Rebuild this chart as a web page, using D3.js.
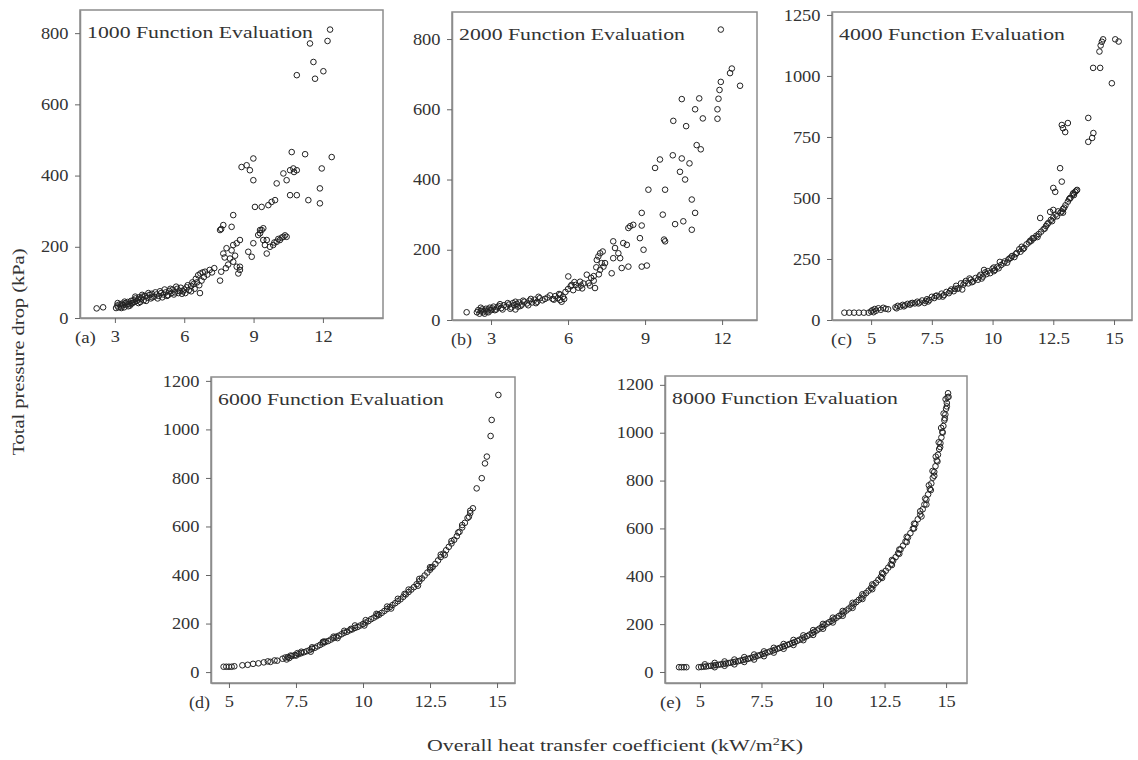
<!DOCTYPE html>
<html>
<head>
<meta charset="utf-8">
<script src="https://cdn.jsdelivr.net/npm/d3@7"></script>
<style>
  body { margin: 0; background: #fff; }
  svg text { font-family: "Liberation Serif", "Times New Roman", serif; fill: #333; }
</style>
</head>
<body>
<svg id="chart" width="1138" height="760"></svg>
<script>
// valores: [coeficiente global (kW/m2K), caida de presion (kPa)]
var fe1000 = [
  [2.21,27],[2.49,30],
  [3.05,28],[3.1,35],[3.15,30],[3.2,38],[3.25,32],[3.3,40],[3.35,36],[3.4,30],[3.45,42],[3.5,38],[3.55,45],[3.6,40],[3.65,35],[3.7,48],[3.75,42],[3.8,50],[3.85,45],[3.9,55],[3.95,48],[4.0,52],[4.05,58],[4.1,45],[4.15,55],[4.2,60],[4.25,50],[4.3,62],[4.4,57],[4.5,65],[4.55,55],[4.6,68],[4.7,60],[4.8,66],[4.9,62],[5.0,70],[5.05,58],[5.1,66],[5.2,72],[5.3,64],[5.35,76],[5.45,70],[5.5,80],[5.6,72],[5.7,82],[5.8,76],[5.9,68],[6.0,80],[6.1,86],[6.2,78],[6.3,90],[6.4,95],[6.45,82],[6.5,110],[6.55,100],[6.6,120],[6.65,92],[6.7,125],[6.75,105],[6.8,128],[6.85,115],[6.9,130],[7.0,122],[7.1,135],[7.2,128],[7.3,140],[6.68,70],[6.3,75],[7.55,105],
  [3.12,42],[3.28,28],[3.42,46],[3.58,33],[3.72,40],[3.88,60],[4.02,42],[4.18,65],[4.35,48],[4.45,70],[4.62,58],[4.75,72],[4.85,55],[4.95,75],[5.15,80],[5.25,62],[5.4,82],[5.55,66],[5.65,88],[5.75,70],[5.85,85],[5.95,75],[6.05,70],[6.15,92],[6.35,100],
  [7.55,247],[7.6,250],[7.69,261],[8.05,256],[8.12,289],
  [7.69,181],[7.75,170],[7.83,196],[7.9,150],[7.98,167],[8.05,190],[8.12,158],[8.2,175],[8.27,144],[8.34,125],[8.41,135],[8.41,144],[8.12,205],[8.27,210],[8.41,219],[7.8,140],[7.6,130],
  [8.77,186],[8.92,172],[8.99,210],[9.2,233],[9.28,238],[9.35,247],[9.42,219],[9.49,205],[9.57,219],[9.57,181],[9.71,200],[9.85,205],[9.9,212],[10.0,214],[10.07,222],[10.14,219],[10.22,226],[10.29,228],[10.36,232],[10.43,228],[9.28,247],[9.42,252],
  [8.48,424],[8.7,429],[8.84,415],[8.99,448],[8.99,387],
  [9.06,312],[9.35,312],[9.64,317],[9.78,326],[9.93,331],[10.0,378],
  [10.29,406],[10.43,387],[10.58,415],[10.72,420],[10.75,410],[10.87,415],
  [10.65,466],[11.23,460],[10.58,345],[10.87,345],[11.37,331],[11.87,322],[11.87,364],[11.95,420],[12.38,452],
  [10.87,682],[11.44,771],[11.59,719],[11.66,672],[12.02,693],[12.2,778],[12.31,810]
];

var fe2000 = [
  [2.05,22],
  [2.45,22],[2.5,28],[2.55,18],[2.6,25],[2.65,30],[2.7,22],[2.75,27],[2.8,32],[2.85,24],[2.9,30],[2.95,35],[3.0,28],[3.05,33],[3.1,38],[3.2,30],[3.25,36],[3.3,40],[3.4,34],[3.5,42],[3.6,38],[3.7,44],[3.8,36],[3.85,48],[3.9,42],[3.95,30],[4.0,46],[4.05,38],[4.1,50],[4.2,44],[4.3,52],[4.4,47],[4.5,55],[4.6,50],[4.7,58],[4.8,52],[4.9,62],[5.0,56],[5.2,64],[5.4,60],[5.5,68],[5.6,62],[5.69,57],[5.75,52],[5.7,72],[5.8,66],[5.9,80],[6.0,88],[6.01,124],[6.1,96],[6.14,100],[6.2,85],[6.3,100],[6.4,92],[6.47,109],[6.5,98],[6.6,104],[6.73,129],[6.8,105],[6.9,120],[7.0,112],[7.05,91],
  [2.6,35],[2.75,18],[2.9,22],[3.15,28],[3.35,45],[3.45,30],[3.65,48],[3.75,32],[3.95,52],[4.15,40],[4.25,55],[4.45,42],[4.55,60],[4.75,48],[4.85,66],[5.1,60],[5.3,70],[5.45,58],[5.65,74],[5.85,60],[6.25,108],[6.55,90],[6.85,98],[7.0,125],
  [7.12,171],[7.18,181],[7.25,190],[7.31,162],[7.38,152],[7.25,143],[7.44,162],[7.1,150],[7.2,130],[7.35,195],
  [7.7,133],[7.76,224],[7.83,205],[7.96,190],[8.03,176],[7.76,176],[8.15,219],[8.09,148],[8.35,152],
  [8.35,262],[8.42,267],[8.54,271],[8.29,214],[8.87,269],[8.8,233],[8.87,305],[8.94,200],[8.87,152],[9.07,155],
  [9.13,371],[9.39,433],[9.58,457],[9.69,300],[9.78,371],[9.74,229],[9.78,224],
  [10.08,469],[10.1,567],[10.17,273],[10.36,422],[10.43,629],[10.43,460],[10.49,281],[10.56,400],[10.6,552],[10.73,446],[10.82,257],[10.82,343],[10.95,600],[10.95,305],[11.01,498],[11.11,631],[11.17,486],[11.25,574],
  [11.82,573],[11.82,600],[11.86,630],[11.9,655],[11.95,678],[12.31,703],[12.38,716],[12.7,667],[11.95,827]
];

var fe4000 = [
  [3.9,30],[4.1,30],[4.3,30],[4.5,30],[4.7,30],[4.9,30],[5.0,35],[5.05,40],[5.1,32],[5.15,45],[5.2,38],[5.3,48],[5.4,42],[5.5,50],[5.6,46],[5.7,44],
  [6.0,52],[6.1,58],[6.2,55],[6.3,62],[6.4,60],[6.5,66],[6.6,63],[6.7,70],[6.8,68],[6.9,75],[7.0,72],[7.1,80],[7.2,70],[7.3,85],[7.4,82],[7.5,95],[7.6,90],[7.7,100],[7.8,96],[7.9,108],[8.0,102],[8.1,115],[8.2,110],[8.3,125],[8.4,118],[8.5,140],[8.6,130],[8.7,150],[8.75,125],[8.8,145],[8.9,160],[9.0,150],[9.1,165],[9.2,158],[9.3,172],[9.4,165],[9.5,185],[9.6,178],[9.65,205],[9.7,195],[9.8,200],[9.9,192],[10.0,210],[10.1,205],[10.2,218],[10.3,238],[10.35,225],[10.5,240],[10.6,235],[10.7,252],[10.8,262],[10.9,258],[11.0,275],[11.1,290],[11.2,300],[11.3,295],[11.4,310],[11.5,318],[11.6,325],[11.7,335],[11.8,345],[11.9,352],[12.0,362],[12.1,372],[12.2,385],[12.3,398],[12.4,410],[12.5,420],[12.6,432],[12.7,445],[12.8,440],[12.9,455],[13.0,470],[13.1,485],[13.2,500],[13.3,515],[13.4,525],[13.45,530],
  [7.25,78],[8.45,128],[9.05,170],[9.55,170],[10.05,200],[10.65,248],[11.15,280],[11.65,335],[12.15,375],
  [6.05,48],[6.35,56],[6.65,68],[6.95,68],[7.35,76],[7.65,98],[7.95,96],[8.25,118],[8.55,128],[8.85,152],[9.15,155],[9.45,178],[9.75,188],[10.05,215],[10.25,212],[10.45,232],[10.75,255],[10.95,270],[11.25,290],[11.55,325],[11.85,340],[12.25,392],[12.45,405],[12.65,425],[12.95,460],[13.15,495],[13.35,512],
  [11.96,418],[12.37,443],[12.5,451],[12.5,541],[12.58,525],[12.78,622],[12.85,567],[12.85,445],[12.9,440],[13.2,500],[13.33,520],[13.48,533],
  [12.85,799],[12.9,786],[12.99,770],[13.1,807],
  [13.94,828],[13.94,730],[14.1,746],[14.15,766],
  [14.14,1033],[14.43,1033],[14.4,1100],[14.45,1125],[14.5,1140],[14.55,1150],[14.91,970],[15.05,1150],[15.19,1141]
];

var fe6000 = [
  [4.8,22],[4.9,22],[5.0,22],[5.1,22],[5.2,24],[5.5,28],[5.7,30],[5.9,34],[6.1,36],[6.3,40],[6.45,44],[6.55,42],[6.7,48],[6.8,47],
  [7.0,55],[7.1,60],[7.2,62],[7.25,58],[7.35,66],[7.45,70],[7.5,68],[7.6,74],[7.7,78],[7.8,82],[7.9,86],[8.0,90],[8.1,96],[8.2,100],[8.3,106],[8.4,112],[8.5,118],[8.6,124],[8.7,128],[8.8,134],[8.9,140],[9.0,146],[9.1,150],[9.2,156],[9.3,162],[9.4,166],[9.5,172],[9.6,176],[9.7,182],[9.8,186],[9.9,192],[10.0,198],[10.1,204],[10.2,210],[10.3,218],[10.4,224],[10.5,230],[10.6,236],[10.7,244],[10.8,252],[10.9,260],[11.0,268],[11.1,276],[11.2,284],[11.3,292],[11.4,300],[11.5,310],[11.6,320],[11.7,330],[11.8,340],[11.9,350],[12.0,362],[12.1,374],[12.2,386],[12.3,398],[12.4,410],[12.5,422],[12.6,434],[12.7,446],[12.8,460],[12.9,474],[13.0,488],[13.1,502],[13.2,516],[13.3,530],[13.4,545],[13.5,560],[13.6,578],[13.7,596],[13.8,615],[13.9,635],[14.0,655],[14.1,675],
  [7.15,52],[7.55,78],[8.05,84],[8.55,126],[9.05,140],[9.55,178],[10.05,192],[10.55,238],[11.05,262],[11.55,322],[12.05,356],[12.55,430],[13.05,482],[13.55,575],[13.95,640],
  [7.3,68],[7.7,84],[8.1,102],[8.5,124],[8.9,146],[9.3,170],[9.7,192],[10.1,214],[10.5,240],[10.9,270],[11.3,302],[11.7,340],[12.1,384],[12.5,432],[12.9,484],[13.3,540],[13.7,606],[14.0,665],
  [14.24,757],[14.43,799],[14.55,860],[14.62,888],[14.76,973],[14.8,1039],[15.05,1142]
];

var fe8000 = [
  [4.15,20],[4.25,20],[4.35,20],[4.45,20],
  [4.95,20],[5.05,21],[5.15,22],[5.25,23],[5.35,25],[5.45,26],[5.55,27],[5.65,29],[5.75,30],[5.85,32],[5.95,34],[6.05,35],[6.15,37],[6.25,39],[6.35,41],[6.45,43],[6.55,45],[6.65,48],[6.75,50],[6.85,53],[6.95,55],[7.05,58],[7.15,61],[7.25,64],[7.35,68],[7.45,71],[7.55,75],[7.65,78],[7.75,82],[7.85,86],[7.95,89],[8.05,93],[8.15,97],[8.25,101],[8.35,105],[8.45,109],[8.55,113],[8.65,117],[8.75,121],[8.85,125],[8.95,130],[9.05,135],[9.15,140],[9.25,145],[9.35,150],[9.45,156],[9.55,162],[9.65,168],[9.75,174],[9.85,181],[9.95,188],[10.05,195],[10.15,202],[10.25,208],[10.35,214],[10.45,220],[10.55,227],[10.65,234],[10.75,241],[10.85,249],[10.95,257],[11.05,265],[11.15,274],[11.25,283],[11.35,292],[11.45,301],[11.55,310],[11.65,320],[11.75,330],[11.85,340],[11.95,351],[12.05,362],[12.15,373],[12.25,385],[12.35,397],[12.45,410],[12.55,423],[12.65,436],[12.75,450],[12.85,465],[12.95,480],[13.05,496],[13.15,512],[13.25,528],[13.35,545],[13.45,562],[13.55,580],[13.65,599],[13.75,618],[13.85,638],[13.95,658],[14.05,680],[14.12,700],[14.2,720],[14.27,742],[14.34,765],[14.4,788],[14.46,812],[14.52,836],[14.57,860],[14.62,884],[14.67,908],[14.72,932],[14.77,956],[14.81,980],[14.85,1004],[14.89,1028],[14.93,1052],[14.97,1076],[15.0,1100],[15.03,1124],[15.06,1148],[15.08,1165],
  [5.2,32],[5.6,38],[6.0,44],[6.4,52],[6.8,62],[7.2,73],[7.6,86],[8.0,101],[8.4,117],[8.8,134],[9.2,153],[9.6,175],[10.0,201],[10.4,227],[10.8,255],[11.2,289],[11.6,325],[12.0,366],[12.4,414],[12.8,468],[13.1,512],[13.4,565],[13.7,620],[13.95,672],[14.15,725],[14.3,780],[14.45,840],[14.58,900],[14.7,960],[14.8,1020],[14.9,1080],[14.98,1140],
  [5.6,20],[6.0,26],[6.4,32],[6.8,42],[7.2,52],[7.6,66],[8.0,81],[8.4,97],[8.8,113],[9.2,133],[9.6,155],[10.0,181],[10.4,207],[10.8,235],[11.2,268],[11.6,305],[12.0,346],[12.4,393],[12.8,447],[13.1,494],[13.4,543],[13.7,600],[14.0,650],[14.2,700],[14.38,760],[14.52,820],[14.65,880],[14.76,940],[14.86,1000],[14.95,1060],[15.03,1110],[15.1,1150]
];

var ticksSmall = [3, 6, 9, 12];
var ticksWide = [5, 7.5, 10, 12.5, 15];
var ticks800 = [0, 200, 400, 600, 800];
var ticks1250 = [0, 250, 500, 750, 1000, 1250];
var ticks1200 = [0, 200, 400, 600, 800, 1000, 1200];

// caja de cada panel: [izq, arriba, der, abajo]
var panels = [
  {tag: "(a)", title: "1000 Function Evaluation", data: fe1000, box: [80, 10, 383, 318], xd: [1.49, 14.6], yd: [0, 865], xt: ticksSmall, yt: ticks800},
  {tag: "(b)", title: "2000 Function Evaluation", data: fe2000, box: [452, 12, 757, 320], xd: [1.48, 13.36], yd: [0, 877], xt: ticksSmall, yt: ticks800},
  {tag: "(c)", title: "4000 Function Evaluation", data: fe4000, box: [832, 12, 1132, 320], xd: [3.39, 15.74], yd: [0, 1262], xt: ticksWide, yt: ticks1250},
  {tag: "(d)", title: "6000 Function Evaluation", data: fe6000, box: [211, 377, 515, 683], xd: [4.33, 15.67], yd: [-45, 1216], xt: ticksWide, yt: ticks1200},
  {tag: "(e)", title: "8000 Function Evaluation", data: fe8000, box: [665, 376, 967, 683], xd: [3.58, 15.85], yd: [-46, 1237], xt: ticksWide, yt: ticks1200}
];

var svg = d3.select("#chart");

panels.forEach(function(p) {
  var L = p.box[0], T = p.box[1], R = p.box[2], B = p.box[3];
  var x = d3.scaleLinear().domain(p.xd).range([L, R]);
  var y = d3.scaleLinear().domain(p.yd).range([B, T]);
  var g = svg.append("g");

  // marco gris
  g.append("rect")
    .attr("x", L).attr("y", T)
    .attr("width", R - L).attr("height", B - T)
    .attr("fill", "none")
    .attr("stroke", "#8c8c8c")
    .attr("stroke-width", 1.5);

  var ya = g.append("g")
    .attr("transform", "translate(" + L + ",0)")
    .call(d3.axisLeft(y).tickValues(p.yt).tickSize(5).tickSizeOuter(0).tickPadding(5).tickFormat(function(d) { return String(d); }));
  var xa = g.append("g")
    .attr("transform", "translate(0," + B + ")")
    .call(d3.axisBottom(x).tickValues(p.xt).tickSize(5).tickSizeOuter(0).tickPadding(8).tickFormat(function(d) { return String(d); }));

  [ya, xa].forEach(function(a) {
    a.select(".domain").attr("stroke", "#8c8c8c").attr("stroke-width", 1.5);
    a.selectAll(".tick line").attr("stroke", "#666");
    a.selectAll(".tick text")
      .attr("fill", "#333")
      .style("font-size", "16px")
      .attr("transform", "scale(1.15,1)");
  });

  // puntos
  g.append("g").selectAll("circle")
    .data(p.data)
    .enter().append("circle")
      .attr("cx", function(d) { return x(d[0]); })
      .attr("cy", function(d) { return y(d[1]); })
      .attr("r", 2.8)
      .attr("fill", "none")
      .attr("stroke", "#222")
      .attr("stroke-width", 1);

  g.append("text")
    .attr("x", L + 7)
    .attr("y", T + 28)
    .attr("textLength", 226)
    .attr("lengthAdjust", "spacingAndGlyphs")
    .style("font-size", "17px")
    .text(p.title);

  g.append("text")
    .attr("x", x(p.xt[0]) - 19)
    .attr("y", B + 25)
    .attr("text-anchor", "end")
    .attr("textLength", 21)
    .attr("lengthAdjust", "spacingAndGlyphs")
    .style("font-size", "16px")
    .text(p.tag);
});

// etiquetas de los ejes
svg.append("text")
  .attr("transform", "translate(24,352) rotate(-90)")
  .attr("text-anchor", "middle")
  .attr("textLength", 207)
  .attr("lengthAdjust", "spacingAndGlyphs")
  .style("font-size", "17px")
  .text("Total pressure drop (kPa)");

var xl = svg.append("text")
  .attr("x", 427)
  .attr("y", 751)
  .attr("textLength", 376)
  .attr("lengthAdjust", "spacingAndGlyphs")
  .style("font-size", "17px");
xl.append("tspan").text("Overall heat transfer coefficient (kW/m");
xl.append("tspan").attr("dy", -6).style("font-size", "11px").text("2");
xl.append("tspan").attr("dy", 6).text("K)");
</script>
</body>
</html>
